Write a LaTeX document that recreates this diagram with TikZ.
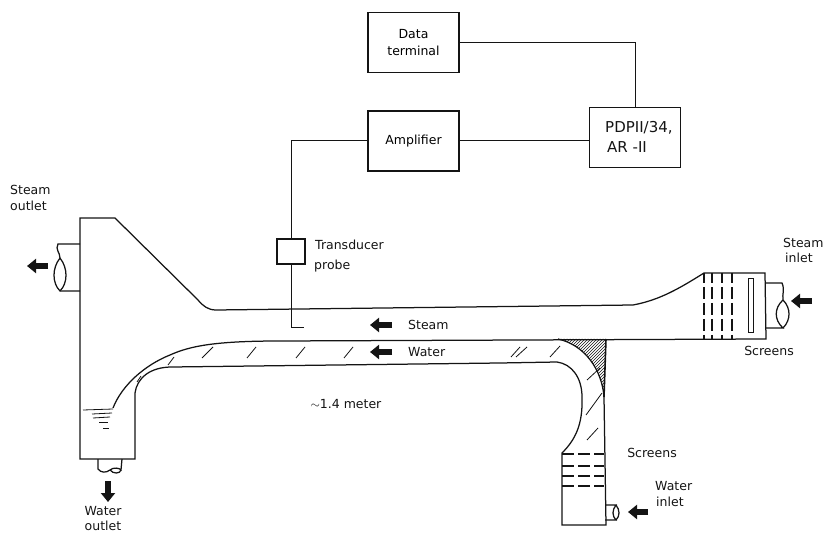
\documentclass[tikz,border=0pt]{standalone}
\usepackage{fontspec}
\setmainfont{DejaVu Sans}
\usetikzlibrary{arrows.meta, patterns}
\definecolor{cInk}{RGB}{20,20,20}
\tikzset{
	wall/.style    ={draw=cInk, line width=1.25pt},
	wire/.style    ={draw=cInk, line width=1pt},
	blk/.style     ={rectangle, draw=cInk, line width=1.1pt, minimum width=91pt, minimum height=60pt, inner sep=0pt, align=center},
	probebox/.style={rectangle, draw=cInk, line width=1.1pt, minimum width=28pt, minimum height=25pt, inner sep=0pt},
	lbl/.style     ={inner sep=0pt, align=left, text=cInk},
	flowarrow/.style={draw=cInk, line width=5.5pt, -{Triangle[length=9pt, width=14pt]}},
	screen/.style  ={draw=cInk, line width=1.6pt, dash pattern=on 12pt off 4pt},
	tick/.style    ={draw=cInk, line width=0.8pt},
}
\begin{document}
\begin{tikzpicture}[x=1pt, y=-1pt, font=\fontsize{12.5}{15}\selectfont]
	\useasboundingbox (0,0) rectangle (827,534);
	% instruments
	\node[blk] (dataterm) at (413.5,42.5) {Data\\[2pt]terminal};
	\node[blk] (amp) at (413.5,141) {Amplifier};
	\node[blk] (pdp) at (635,137.5) {};
	\node[probebox] (probe) at (291,251.5) {};
	\node[lbl, anchor=west, font=\fontsize{15}{15}\selectfont] (pdptxt) at (605,128) {PDPII/34,};
	\node[lbl, anchor=west, font=\fontsize{15}{15}\selectfont] (artxt) at (607,147) {AR -II};
	\coordinate (tip) at (304,328);
	\draw[wire] (dataterm.east) -| (pdp.north);
	\draw[wire] (amp.east) -- (amp.east -| pdp.west);
	\draw[wire] (amp.west) -| (probe.north);
	\draw[wire] (probe.south) |- (tip);
	% channel and tanks
	\draw[wall] (113,408) .. controls (122,385) and (145,365) .. (170,355)
		.. controls (190,346) and (215,341) .. (280,341) -- (766,339) -- (765,273) -- (704,273)
		.. controls (680,288) and (660,300) .. (633,305) -- (216,310)
		.. controls (208,310) and (203,306) .. (198,300) -- (115,218) -- (80,218) -- (80,459) -- (135,459) -- (135,393)
		.. controls (137,378) and (150,367) .. (172,367) -- (500,363) -- (557,362)
		.. controls (572,364) and (582,378) .. (582,397)
		.. controls (583,425) and (575,440) .. (562,453) -- (562,525) -- (606,525) -- (604,397);
	% wedge at the water inlet bend
	\path[pattern=north east lines, pattern color=cInk] (558,339) -- (606,339) -- (604,397)
		.. controls (602,370) and (585,345) .. (558,339);
	\draw[wall] (558,339) .. controls (585,345) and (602,370) .. (604,397);
	\draw[draw=cInk, line width=1.6pt] (606,339) -- (604,397);
	% screens
	\foreach \xs in {704,712,722,732}
		\draw[screen, dash phase=2pt] (\xs,273) -- (\xs,339);
	\foreach \ys in {454,466,476,486}
		\draw[screen, line width=1.3pt] (562,\ys) -- (604,\ys);
	\draw[wall, line width=1pt] (748,279) rectangle (753,333);
	% pipes
	\draw[wall] (80,244) -- (58,244) .. controls (55,250) and (60,252) .. (60,258)
		.. controls (52,268) and (52,283) .. (60,291) -- (80,291);
	\draw[wall] (60,258) .. controls (68,268) and (68,283) .. (60,291);
	\draw[wall] (766,283) -- (782,283) .. controls (785,290) and (782,294) .. (783,300)
		.. controls (774,308) and (774,320) .. (783,328) -- (766,328);
	\draw[wall] (783,300) .. controls (791,308) and (791,320) .. (783,328);
	\draw[wall] (98,459) -- (98,469) .. controls (101,473) and (106,473) .. (110,470)
		.. controls (113,467) and (120,468) .. (121,470) -- (122,459);
	\draw[wall] (110,470) .. controls (113,474) and (120,474) .. (121,470);
	\draw[wall] (605,505) -- (616,505) .. controls (612,510) and (612,516) .. (616,520) -- (605,520);
	\draw[wall] (616,505) .. controls (620,510) and (620,516) .. (616,520);
	% water level
	\draw[tick] (83,410) -- (113,409);
	\draw[tick] (92,414) -- (112,413);
	\draw[tick] (93,418) -- (110,417);
	\draw[tick] (99,422) -- (108,422);
	\draw[tick] (103,428) -- (109,428);
	% glass marks on the water
	\foreach \xa/\ya/\xb/\yb in {137/382/141/376, 168/365/174/357, 202/358/213/347, 247/358/256/347, 296/358/305/347, 344/358/353/347, 511/357/520/347, 516/357/527/347, 550/357/560/346, 587/380/600/368, 586/415/602/393, 587/440/598/428}
		\draw[tick] (\xa,\ya) -- (\xb,\yb);
	% flow arrows
	\draw[flowarrow] (48,266) -- (27,266);
	\draw[flowarrow] (108,481) -- (108,502);
	\draw[flowarrow] (812,301) -- (791,301);
	\draw[flowarrow] (648,512) -- (628,512);
	\draw[flowarrow] (392,325) -- (370,325);
	\draw[flowarrow] (392,352) -- (370,352);
	% labels
	\node[lbl, anchor=west] (steamout) at (10,190) {Steam};
	\node[lbl, anchor=west] (steamout2) at (10,206) {outlet};
	\node[lbl, anchor=west] (trans) at (315,245) {Transducer};
	\node[lbl, anchor=west] (trans2) at (314,266) {probe};
	\node[lbl, anchor=west] (steamlbl) at (408,325) {Steam};
	\node[lbl, anchor=west] (waterlbl) at (408,352) {Water};
	\node[lbl] (dist) at (346,404) {$\sim$1.4 meter};
	\node[lbl, anchor=west] (steamin) at (783,243) {Steam};
	\node[lbl, anchor=west] (steamin2) at (785,258) {inlet};
	\node[lbl] (scr1) at (769,351) {Screens};
	\node[lbl] (scr2) at (652,453) {Screens};
	\node[lbl, anchor=west] (waterin) at (655,486) {Water};
	\node[lbl, anchor=west] (waterin2) at (656,502) {inlet};
	\node[lbl] (waterout) at (103,511) {Water};
	\node[lbl] (waterout2) at (103,526) {outlet};
\end{tikzpicture}
\end{document}
